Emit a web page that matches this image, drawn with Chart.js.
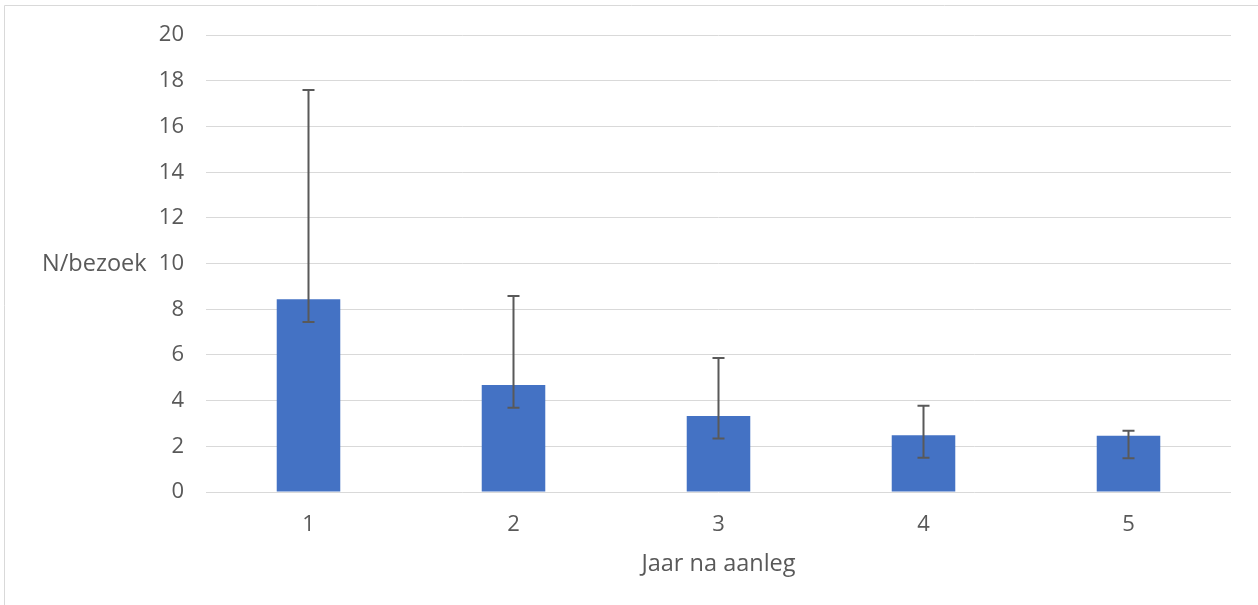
<!DOCTYPE html>
<html>
<head>
<meta charset="utf-8">
<script src="https://cdn.jsdelivr.net/npm/chart.js@4/dist/chart.umd.min.js"></script>
<style>
  body { margin: 0; background: #fff; }
  #wrap { position: relative; width: 1258px; height: 605px; }
</style>
</head>
<body>
<div id="wrap"><canvas id="chart"></canvas></div>
<script>
// data
const years = ['1', '2', '3', '4', '5'];
const means = [8.44, 4.68, 3.33, 2.49, 2.46];
const errUpper = [17.6, 8.58, 5.87, 3.78, 2.68];
const errLower = [7.44, 3.69, 2.34, 1.5, 1.48];
const yTicks = [0, 2, 4, 6, 8, 10, 12, 14, 16, 18, 20];

const textColor = '#595959';
const gridColor = '#d9d9d9';
const family = '"Open Sans", "Liberation Sans", sans-serif';
const font = { family: family, size: 22 };
const titleFont = { family: family, size: 23.5 };

// whisker lines drawn from the y scale
const errorBars = {
  id: 'errorBars',
  afterDatasetsDraw(chart) {
    const ctx = chart.ctx;
    const y = chart.scales.y;
    const meta = chart.getDatasetMeta(0);
    ctx.save();
    ctx.strokeStyle = '#595959';
    ctx.lineWidth = 2;
    meta.data.forEach((bar, i) => {
      const top = y.getPixelForValue(errUpper[i]);
      const bot = y.getPixelForValue(errLower[i]);
      ctx.beginPath();
      ctx.moveTo(bar.x, top);
      ctx.lineTo(bar.x, bot);
      ctx.moveTo(bar.x - 6, top);
      ctx.lineTo(bar.x + 6, top);
      ctx.moveTo(bar.x - 6, bot);
      ctx.lineTo(bar.x + 6, bot);
      ctx.stroke();
    });
    ctx.restore();
  }
};

// horizontal y title and the outer frame
const extras = {
  id: 'extras',
  afterDraw(chart) {
    const ctx = chart.ctx;
    const area = chart.chartArea;
    ctx.save();
    ctx.strokeStyle = gridColor;
    ctx.lineWidth = 1;
    ctx.beginPath();
    ctx.moveTo(4.5, chart.height);
    ctx.lineTo(4.5, 5.5);
    ctx.lineTo(chart.width, 5.5);
    ctx.stroke();
    ctx.fillStyle = textColor;
    ctx.font = titleFont.size + 'px ' + titleFont.family;
    ctx.textAlign = 'left';
    ctx.textBaseline = 'middle';
    ctx.fillText('N/bezoek', area.left - 164, (area.top + area.bottom) / 2 + 1);
    ctx.restore();
  }
};

new Chart(document.getElementById('chart'), {
  type: 'bar',
  data: {
    labels: years,
    datasets: [{
      data: means,
      backgroundColor: '#4472C4',
      borderWidth: 0,
      barPercentage: 0.31,
      categoryPercentage: 1
    }]
  },
  options: {
    responsive: true,
    maintainAspectRatio: false,
    animation: false,
    layout: { padding: { top: 35, right: 27, left: 0, bottom: 27 } },
    plugins: { legend: { display: false }, tooltip: { enabled: false } },
    scales: {
      x: {
        grid: { display: false },
        border: { display: false },
        ticks: { color: textColor, font: font, padding: 12 },
        title: { display: true, text: 'Jaar na aanleg', color: textColor, font: titleFont, padding: { top: 4, bottom: 0 } },
        afterFit(scale) { scale.height = 86; }
      },
      y: {
        min: 0,
        max: 20,
        afterBuildTicks(scale) { scale.ticks = yTicks.map(v => ({ value: v })); },
        grid: { color: gridColor, lineWidth: 1, drawTicks: false },
        border: { display: false },
        ticks: { color: textColor, font: font, padding: 22 },
        afterFit(scale) { scale.width = 206; }
      }
    }
  },
  plugins: [errorBars, extras]
});
</script>
</body>
</html>
